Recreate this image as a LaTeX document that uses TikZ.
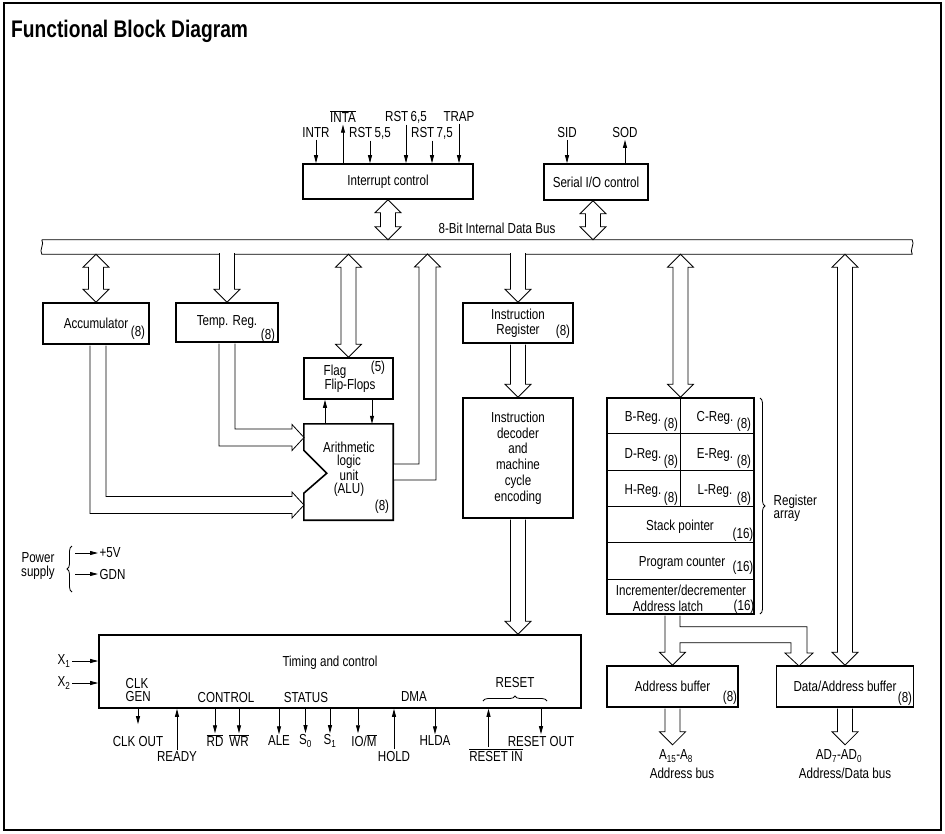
\documentclass[tikz,border=0pt]{standalone}
\usepackage{fontspec}
\setmainfont{Liberation Sans}[FakeStretch=0.8]
\usetikzlibrary{arrows.meta,calc,decorations.pathreplacing}

\newcommand\ovl[1]{$\overline{\mbox{#1}}$}
% hollow bus arrows: #1 upper tip, #2 lower tip
\newcommand\hdouble[2]{%
  \draw[hollow] let \p1=(#1), \p2=(#2) in
    (\x2,\y1) -- (\x2+13pt,\y1-13pt) -- (\x2+7.5pt,\y1-13pt) -- (\x2+7.5pt,\y2+13pt)
    -- (\x2+13pt,\y2+13pt) -- (\x2,\y2) -- (\x2-13pt,\y2+13pt) -- (\x2-7.5pt,\y2+13pt)
    -- (\x2-7.5pt,\y1-13pt) -- (\x2-13pt,\y1-13pt) -- cycle;}
% open top #1, tip #2
\newcommand\hdown[2]{%
  \draw[hollow] let \p1=(#1), \p2=(#2) in
    (\x2-7.5pt,\y1-0.8pt) -- (\x2-7.5pt,\y2+13pt) -- (\x2-13pt,\y2+13pt) -- (\x2,\y2)
    -- (\x2+13pt,\y2+13pt) -- (\x2+7.5pt,\y2+13pt) -- (\x2+7.5pt,\y1-0.8pt);}
% open top #1, down then right to tip #2
\newcommand\hbend[2]{%
  \draw[hollow] let \p1=(#1), \p2=(#2) in
    (\x1-8pt,\y1-0.8pt) -- (\x1-8pt,\y2-8.5pt) -- (\x2-12pt,\y2-8.5pt) -- (\x2-12pt,\y2-13pt)
    -- (\x2,\y2) -- (\x2-12pt,\y2+13pt) -- (\x2-12pt,\y2+8.5pt) -- (\x1+8pt,\y2+8.5pt)
    -- (\x1+8pt,\y1-0.8pt);}

\begin{document}
\begin{tikzpicture}[x=1pt, y=-1pt, font=\fontsize{14.5}{15}\selectfont,
    blk/.style={draw, line width=1.6pt, inner sep=0pt, align=center},
    thinline/.style={line width=0.8pt},
    hollow/.style={draw, fill=white, line width=0.8pt, line join=miter},
    sig/.style={line width=0.8pt, -{Triangle[length=8pt,width=4pt]}},
    tag/.style={inner sep=1.5pt},
    brc/.style={decorate, decoration={brace, amplitude=5pt}, line width=0.8pt}]

  \useasboundingbox (0,0) rectangle (945,833);
  \draw[line width=1.2pt] (4,3) rectangle (941,830);
  \node[anchor=west, inner sep=0pt, font=\fontsize{24}{26}\selectfont\bfseries] (title) at (11,31) {Functional Block Diagram};

  % ---- internal data bus
  \node[minimum width=870, minimum height=14, inner sep=0pt] (bus) at (477,247) {};
  \draw[thinline] (bus.north west) -- (bus.north east) .. controls +(3,4) and +(-3,-4) .. (bus.south east)
    -- (bus.south west) .. controls +(-3,-4) and +(3,4) .. (bus.north west);
  \node[tag] (buslbl) at (497,228) {8-Bit Internal Data Bus};

  % ---- interrupt and serial control
  \node[blk, minimum width=170, minimum height=35] (intc) at (388,181.5) {Interrupt control};
  \node[blk, minimum width=104, minimum height=36] (sio) at (596,182) {Serial I/O control};
  \coordinate (sioport) at ([xshift=-3pt]sio.south);
  \hdouble{intc.south}{intc.south |- bus.north}
  \hdouble{sioport}{sioport |- bus.north}
  \foreach \n/\x/\y/\txt in {intr/316/133/INTR, rsta/370/133/{RST\,5,5}, rstb/406/117/{RST\,6,5},
      rstc/432/133/{RST\,7,5}, trap/459/117/TRAP} {
    \node[tag] (\n) at (\x,\y) {\txt};
    \draw[sig] (\n.south) -- (\n.south |- intc.north);
  }
  \node[tag] (inta) at (343,117) {\ovl{INTA}};
  \draw[sig] (inta.south |- intc.north) -- (inta.south);
  \node[tag] (sid) at (567,133) {SID};
  \draw[sig] (sid.south) -- (sid.south |- sio.north);
  \node[tag] (sod) at (625,133) {SOD};
  \draw[sig] (sod.south |- sio.north) -- (sod.south);

  % ---- accumulator, temp. reg., flags and ALU
  \node[blk, minimum width=106, minimum height=41] (acc) at (96,323.5) {Accumulator};
  \node[tag] (acc8) at (138,333) {(8)};
  \node[blk, minimum width=102, minimum height=39] (temp) at (227,322.5) {Temp. Reg.};
  \node[tag] (temp8) at (268,336) {(8)};
  \node[blk, minimum width=89, minimum height=41] (flag) at (348.5,378.5) {};
  \node[tag] (flagtxt) at (335,372) {Flag};
  \node[tag] (flag5) at (378,368) {(5)};
  \node[tag] (fliptxt) at (350,386) {Flip-Flops};
  \node[minimum width=89, minimum height=96, inner sep=0pt] (alu) at (348.5,472) {};
  \draw[line width=1.6pt] (alu.north west) -- (alu.north east) -- (alu.south east) -- (alu.south west)
    -- ++(0,-27) -- ++(23,-20) -- ++(-23,-23) -- cycle;
  \node[tag, align=center, font=\fontsize{14.5}{13}\selectfont] (alutxt) at (349,469) {Arithmetic\\logic\\unit\\(ALU)};
  \node[tag] (alu8) at (382,507) {(8)};
  \coordinate (aluA) at (304,437.5);
  \coordinate (aluB) at (304,505);
  \coordinate (aluout) at (427.5,254);
  \coordinate (accport) at ([xshift=2pt]acc.south);
  \hdouble{acc.north |- bus.south}{acc.north}
  \hdown{$(temp.north |- bus.south)+(0,-2)$}{temp.north}
  \hdouble{flag.north |- bus.south}{flag.north}
  \hbend{temp.south}{aluA}
  \hbend{accport}{aluB}
  \draw[hollow] let \p1=(alu.east), \p2=(aluout) in
    (\x1+0.8pt,\y1-8pt) -- (\x2+8.5pt,\y1-8pt) -- (\x2+8.5pt,\y2-13pt) -- (\x2+13pt,\y2-13pt)
    -- (\x2,\y2) -- (\x2-13pt,\y2-13pt) -- (\x2-8.5pt,\y2-13pt) -- (\x2-8.5pt,\y1+8pt) -- (\x1+0.8pt,\y1+8pt);
  \coordinate (flup) at ([xshift=-23.5pt]alu.north);
  \coordinate (fldn) at ([xshift=23.5pt]alu.north);
  \draw[sig] (flup) -- (flup |- flag.south);
  \draw[sig] (fldn |- flag.south) -- (fldn);

  % ---- instruction path
  \node[blk, minimum width=110, minimum height=40] (ir) at (518,323) {Instruction\\Register};
  \node[tag] (ir8) at (563,332) {(8)};
  \node[blk, minimum width=110, minimum height=120, font=\fontsize{14.5}{15.7}\selectfont] (dec) at (518,458)
    {Instruction\\decoder\\and\\machine\\cycle\\encoding};
  \hdown{$(ir.north |- bus.south)+(0,-2)$}{ir.north}
  \hdown{ir.south}{dec.north}

  % ---- timing and control
  \node[blk, minimum width=482, minimum height=73] (tim) at (340,671.5) {};
  \hdown{dec.south}{dec.south |- tim.north}
  \node[tag] (timtxt) at (330,663) {Timing and control};
  \node[tag, align=left, anchor=west, font=\fontsize{14.5}{13.5}\selectfont] (clkgen) at (124,690) {CLK\\GEN};
  \node[tag] (ctrl) at (226,697) {CONTROL};
  \node[tag] (stat) at (306,697) {STATUS};
  \node[tag] (dma) at (414,697) {DMA};
  \node[tag] (rst) at (515,682) {RESET};
  \draw[brc] (483,701) -- (547,701);
  \node[tag] (x1) at (64,661) {X\textsubscript{1}};
  \node[tag] (x2) at (64,683) {X\textsubscript{2}};
  \draw[sig] (x1.east) -- (x1.east -| tim.west);
  \draw[sig] (x2.east) -- (x2.east -| tim.west);
  \foreach \n/\x/\txt in {rd/215/\ovl{RD}, wr/239/\ovl{WR}, ale/279/ALE, szero/305.5/S\textsubscript{0},
      sone/330/S\textsubscript{1}, hlda/435/HLDA, rstout/541/RESET OUT} {
    \node[tag] (\n) at (\x,741) {\txt};
    \draw[sig] (\n.north |- tim.south) -- (\n.north);
  }
  \node[tag] (clkout) at (138,741) {CLK OUT};
  \draw[sig, shorten >=10pt] (clkout.north |- tim.south) -- (clkout.north);
  \node[tag] (iom) at (364,741) {IO/\ovl{M}};
  \coordinate (iomport) at ([xshift=-6pt]iom.north);
  \draw[sig] (iomport |- tim.south) -- (iomport);
  \node[tag] (ready) at (177,757) {READY};
  \draw[sig] (ready.north) -- (ready.north |- tim.south);
  \node[tag] (hold) at (394,756) {HOLD};
  \draw[sig] (hold.north) -- (hold.north |- tim.south);
  \node[tag] (rstin) at (496,755) {\ovl{RESET IN}};
  \coordinate (rstinport) at ([xshift=-7.5pt]rstin.north);
  \draw[sig] (rstinport) -- (rstinport |- tim.south);

  % ---- power supply
  \node[tag, align=center, font=\fontsize{14.5}{14}\selectfont] (psu) at (38,566) {Power\\supply};
  \draw[brc] (72,592) -- (72,546);
  \node[tag, anchor=west] (pfive) at (98,553) {+5V};
  \node[tag, anchor=west] (pgnd) at (98,574) {GDN};
  \draw[sig] ($(pfive.west)+(-23,0)$) -- (pfive.west);
  \draw[sig] ($(pgnd.west)+(-23,0)$) -- (pgnd.west);

  % ---- register array
  \node[blk, minimum width=147, minimum height=216] (reg) at (680.5,506) {};
  \foreach \d in {36.5,73,109.5,145.5,182}
    \draw[line width=1.2pt] ($(reg.north west)+(0,\d)$) -- ($(reg.north east)+(0,\d)$);
  \draw[line width=1.2pt] (reg.north) -- ($(reg.north)+(0,109.5)$);
  \foreach \l/\r/\i in {B/C/0, D/E/1, H/L/2} {
    \node[tag] (reg\l) at (643,418+36.7*\i) {\l-Reg.};
    \node[tag] (reg\l8) at (671,425+36.7*\i) {(8)};
    \node[tag] (reg\r) at (715,418+36.7*\i) {\r-Reg.};
    \node[tag] (reg\r8) at (744,425+36.7*\i) {(8)};
  }
  \node[tag] (sp) at (680,527) {Stack pointer};
  \node[tag] (sp16) at (743,535) {(16)};
  \node[tag] (pc) at (682,563) {Program counter};
  \node[tag] (pc16) at (743,568) {(16)};
  \node[tag, inner sep=0.5pt] (inc) at (681,590) {Incrementer/decrementer};
  \node[tag] (latch) at (668,606) {Address latch};
  \node[tag, inner sep=0.5pt] (inc16) at (744,607) {(16)};
  \draw[brc] (760,398) -- (760,614);
  \node[tag, align=left, anchor=west, font=\fontsize{14.5}{13.5}\selectfont] (reglbl) at (772,508) {Register\\array};
  \hdouble{reg.north |- bus.south}{reg.north}

  % ---- address and data buffers
  \node[blk, minimum width=131, minimum height=41] (abuf) at (672.5,686.5) {Address buffer};
  \node[tag] (abuf8) at (730,698) {(8)};
  \node[blk, minimum width=137, minimum height=41] (dbuf) at (845,686.5) {Data/Address buffer};
  \node[tag] (dbuf8) at (905,699) {(8)};
  \coordinate (dbufin) at (799,666);
  \draw[hollow] let \p1=(reg.south), \p2=(abuf.north), \p3=(dbufin) in
    (\x2-7.5pt,\y1-0.8pt) -- (\x2-7.5pt,\y2+13pt) -- (\x2-13pt,\y2+13pt) -- (\x2,\y2)
    -- (\x2+13pt,\y2+13pt) -- (\x2+7.5pt,\y2+13pt) -- (\x2+7.5pt,\y1-28pt) -- (\x3-8pt,\y1-28pt)
    -- (\x3-8pt,\y3+13pt) -- (\x3-14pt,\y3+13pt) -- (\x3,\y3) -- (\x3+14pt,\y3+13pt) -- (\x3+8pt,\y3+13pt)
    -- (\x3+8pt,\y1-12pt) -- (\x2+7.5pt,\y1-12pt) -- (\x2+7.5pt,\y1-0.8pt);
  \hdouble{dbuf.north |- bus.south}{dbuf.north}
  \coordinate (abusend) at ($(abuf.south)+(0,37)$);
  \coordinate (dbusend) at ($(dbuf.south)+(0,37)$);
  \hdown{abuf.south}{abusend}
  \hdown{dbuf.south}{dbusend}
  \node[tag] (abus) at (676,756) {A\textsubscript{15}-A\textsubscript{8}};
  \node[tag] (abustxt) at (682,773) {Address bus};
  \node[tag] (dbus) at (839,756) {AD\textsubscript{7}-AD\textsubscript{0}};
  \node[tag] (dbustxt) at (845,773) {Address/Data bus};
\end{tikzpicture}
\end{document}
